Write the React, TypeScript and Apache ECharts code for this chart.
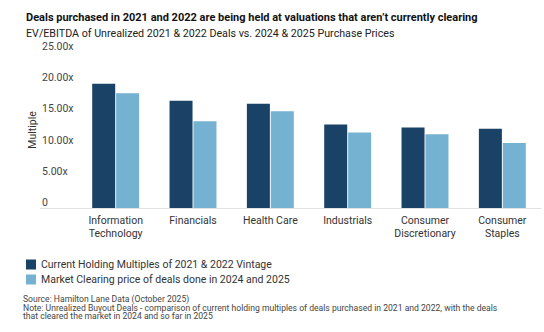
import React, { useEffect, useRef } from "react";
import * as echarts from "echarts";

const categories = [
  "Information\nTechnology",
  "Financials",
  "Health Care",
  "Industrials",
  "Consumer\nDiscretionary",
  "Consumer\nStaples",
];
const holdingMultiples = [19.9, 17.2, 16.7, 13.4, 12.9, 12.7];
const clearingPrices = [18.4, 13.9, 15.5, 12.1, 11.8, 10.4];
const seriesNames = [
  "Current Holding Multiples of 2021 & 2022 Vintage",
  "Market Clearing price of deals done in 2024 and 2025",
];
const yTicks = { min: 0, max: 25, interval: 5 };

const FONT = "Roboto, 'Noto Sans', sans-serif";

export default function App() {
  const ref = useRef<HTMLDivElement>(null);
  useEffect(() => {
    document.body.style.margin = "0";
    const chart = echarts.init(ref.current!, null, { renderer: "svg" });
    chart.setOption({
      animation: false,
      textStyle: { fontFamily: FONT },
      title: [
        {
          text: "Deals purchased in 2021 and 2022 are being held at valuations that aren\u2019t currently clearing",
          left: 21,
          top: 7,
          textStyle: { fontSize: 11, fontWeight: "bold", color: "#111", fontFamily: FONT },
        },
        {
          text: "EV/EBITDA of Unrealized 2021 & 2022 Deals vs. 2024 & 2025 Purchase Prices",
          left: 21,
          top: 23,
          textStyle: { fontSize: 10.7, fontWeight: "normal", color: "#222", fontFamily: FONT },
        },
      ],
      legend: {
        orient: "vertical",
        left: 21,
        top: 254,
        itemWidth: 10,
        itemHeight: 10,
        itemGap: 4,
        icon: "rect",
        textStyle: { fontSize: 10.5, color: "#333", fontFamily: FONT },
        data: seriesNames,
      },
      grid: { left: 77, right: 3, top: 52, bottom: 124 },
      xAxis: {
        type: "category",
        data: categories,
        axisLine: { show: true, lineStyle: { color: "#e2e2e2", width: 1 } },
        axisTick: { show: false },
        axisLabel: {
          fontSize: 10.5,
          color: "#333",
          margin: 6,
          lineHeight: 13,
          interval: 0,
          fontFamily: FONT,
        },
      },
      yAxis: {
        type: "value",
        min: yTicks.min,
        max: yTicks.max,
        interval: yTicks.interval,
        name: "Multiple",
        nameLocation: "middle",
        nameGap: 39,
        nameMoveOverlap: false,
        nameTextStyle: { fontSize: 10.5, color: "#333", fontFamily: FONT },
        splitLine: { show: false },
        axisLine: { show: false },
        axisTick: { show: false },
        axisLabel: {
          fontSize: 10.5,
          color: "#444",
          align: "left",
          verticalAlign: "bottom",
          lineHeight: 11,
          margin: 35,
          showMaxLabel: true,
          showMinLabel: true,
          fontFamily: FONT,
          formatter: (v: number) => (v === 0 ? "0" : v.toFixed(2) + "x"),
        },
      },
      series: [
        {
          name: seriesNames[0],
          type: "bar",
          data: holdingMultiples,
          barWidth: 23,
          barGap: "4%",
          itemStyle: { color: "#1a4166" },
        },
        {
          name: seriesNames[1],
          type: "bar",
          data: clearingPrices,
          barWidth: 23,
          itemStyle: { color: "#75b1d1" },
        },
      ],
      graphic: [
        {
          type: "line",
          shape: { x1: 40, y1: 208.5, x2: 78, y2: 208.5 },
          style: { stroke: "#e2e2e2", lineWidth: 1 },
        },
        {
          type: "text",
          left: 23,
          top: 294,
          style: {
            text: "Source: Hamilton Lane Data (October 2025)",
            fontSize: 8.6,
            fill: "#444",
            fontFamily: FONT,
          },
        },
        {
          type: "text",
          left: 23,
          top: 303,
          style: {
            text:
              "Note: Unrealized Buyout Deals - comparison of current holding multiples of deals purchased in 2021 and 2022, with the deals\nthat cleared the market in 2024 and so far in 2025",
            fontSize: 8.6,
            lineHeight: 8.5,
            fill: "#444",
            fontFamily: FONT,
          },
        },
      ],
    });
    return () => chart.dispose();
  }, []);
  return <div ref={ref} style={{ width: 544, height: 332 }} />;
}
